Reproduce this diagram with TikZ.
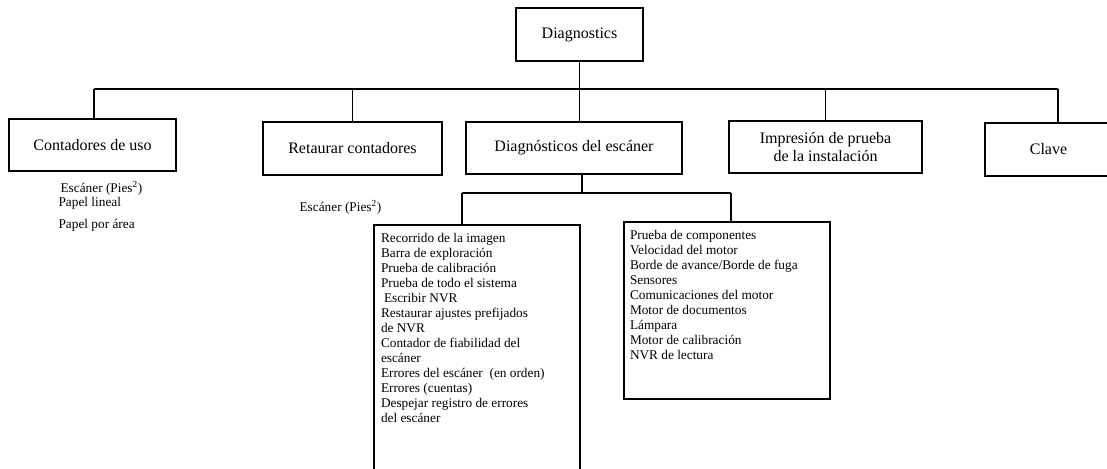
\documentclass[tikz,border=0pt]{standalone}
\usepackage{fontspec}
\setmainfont{Liberation Serif}
\usetikzlibrary{positioning}

\begin{document}
\begin{tikzpicture}[x=1pt, y=-1pt, line width=1.2pt,
  box/.style={draw, line width=1.2pt, align=center, font=\fontsize{16}{18}\selectfont},
  listbox/.style={draw, line width=1.2pt},
  listtext/.style={inner sep=0pt, align=left, font=\fontsize{13.3}{15}\selectfont},
  subtext/.style={inner sep=0pt, anchor=west, font=\fontsize{13.3}{15}\selectfont}]
\useasboundingbox (0,0) rectangle (1107,468);
\clip (0,0) rectangle (1107,468);

% top box and first level
\node[box, minimum width=127pt, minimum height=53pt] (diagnostics) at (579.5,34.5) {Diagnostics};
\node[box, minimum width=167pt, minimum height=52pt] (usage) at (92.5,145) {Contadores de uso};
\node[box, minimum width=179pt, minimum height=53pt] (reset) at (352.5,148.5) {Retaurar contadores};
\node[box, minimum width=216pt, minimum height=52pt] (scanner) at (574,148) {Diagnósticos del escáner};
\node[box, minimum width=193pt, minimum height=52pt] (testprint) at (825.5,147) {Impresión de prueba\\de la instalación};
\node[box, minimum width=127pt, minimum height=53pt] (passkey) at (1048.5,149.5) {Clave};

% texts under the counters
\node[subtext] (usagescan) at (60,188) {Escáner (Pies\textsuperscript{2})};
\node[subtext] (usageline) at (58,203) {Papel lineal};
\node[subtext] (usagearea) at (58,225) {Papel por área};
\node[subtext] (resetscan) at (299,207) {Escáner (Pies\textsuperscript{2})};

% scanner lists
\node[listbox, minimum width=206pt, minimum height=260pt] (scanlist) at (477,355) {};
\node[listbox, minimum width=206pt, minimum height=177pt] (complist) at (727,310.5) {};
\node[listtext, anchor=north west] (scanitems) at ([xshift=7pt,yshift=-8pt]scanlist.north west)
  {Recorrido de la imagen\\
   Barra de exploración\\
   Prueba de calibración\\
   Prueba de todo el sistema\\
   \hspace{3pt}Escribir NVR\\
   Restaurar ajustes prefijados\\
   de NVR\\
   Contador de fiabilidad del\\
   escáner\\
   Errores del escáner\ \ (en orden)\\
   Errores (cuentas)\\
   Despejar registro de errores\\
   del escáner};
\node[listtext, anchor=north west] (compitems) at ([xshift=6pt,yshift=-8pt]complist.north west)
  {Prueba de componentes\\
   Velocidad del motor\\
   Borde de avance/Borde de fuga\\
   Sensores\\
   Comunicaciones del motor\\
   Motor de documentos\\
   Lámpara\\
   Motor de calibración\\
   NVR de lectura};

% connectors
\coordinate (barL) at (94,89);
\coordinate (barR) at (1058,89);
\coordinate (subL) at (462,193);
\coordinate (subR) at (731,193);
\draw (barL) -- (barR);
\draw (diagnostics.south) -- (diagnostics.south |- scanner.north);
\draw (barL) -- (barL |- usage.north);
\draw (reset.north) -- (reset.north |- barL);
\draw (testprint.north) -- (testprint.north |- barL);
\draw (barR) -- (barR |- passkey.north);
\draw (subL) -- (subR);
\draw ([xshift=8pt]scanner.south) -- ([xshift=8pt]scanner.south |- subL);
\draw (subL) -- (subL |- scanlist.north);
\draw (subR) -- (subR |- complist.north);
\end{tikzpicture}
\end{document}
